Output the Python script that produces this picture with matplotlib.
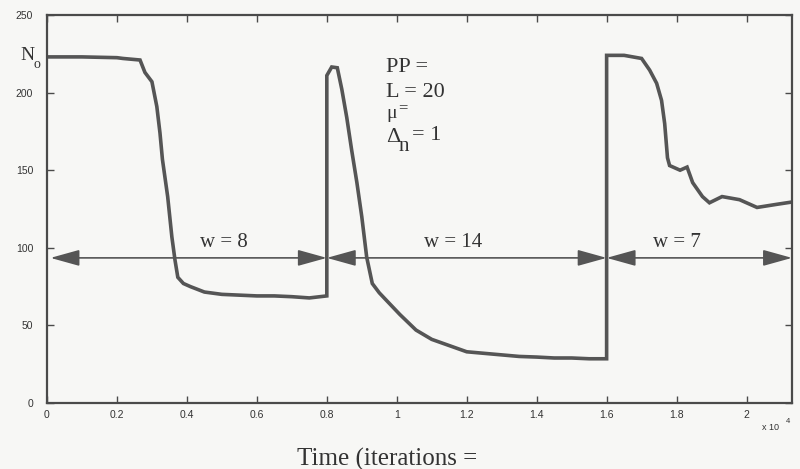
import numpy as np
import matplotlib
matplotlib.use("Agg")
import matplotlib.pyplot as plt

# time in units of 10^4 iterations
t = [0, 0.10, 0.20, 0.217, 0.266, 0.28, 0.30, 0.314, 0.323, 0.33, 0.345, 0.357,
     0.366, 0.374, 0.39, 0.41, 0.45, 0.5, 0.55, 0.6, 0.65, 0.7, 0.75, 0.8,
     0.8, 0.814, 0.83, 0.843, 0.857, 0.871, 0.886, 0.9, 0.914, 0.93, 0.95, 0.971,
     1.009, 1.055, 1.1, 1.15, 1.2, 1.25, 1.3, 1.35, 1.4, 1.45, 1.5, 1.55, 1.6,
     1.6, 1.65, 1.70, 1.723, 1.743, 1.757, 1.766, 1.774, 1.78, 1.81, 1.83, 1.846,
     1.874, 1.894, 1.93, 1.98, 2.03, 2.086, 2.13]
n = [223, 223, 222.5, 222, 221, 213, 207, 191, 174, 157, 133, 107,
     92, 81, 77, 75, 71.5, 70, 69.5, 69, 69, 68.5, 67.7, 69,
     211, 216.5, 216, 202, 184, 163, 142, 120, 94, 77, 71, 66,
     57, 47, 41, 37, 33, 32, 31, 30, 29.6, 29, 29, 28.5, 28.5,
     224, 224, 222, 214.5, 206, 195, 180, 158, 153, 150, 152, 142,
     133, 129, 133, 131, 126, 128, 129.5]

# window boundaries and labels
w_edges = [0.01, 0.8, 1.6, 2.13]
w_labels = ["w = 8", "w = 14", "w = 7"]
w_label_x = [0.506, 1.16, 1.80]
w_level = 93.5

xticks = [0, 0.2, 0.4, 0.6, 0.8, 1.0, 1.2, 1.4, 1.6, 1.8, 2.0]
yticks = [0, 50, 100, 150, 200, 250]

W, H = 800, 469
bg = "#f7f7f5"
ink = "#4a4a4a"
serif = ["Liberation Serif", "DejaVu Serif"]
sans = ["Liberation Sans", "DejaVu Sans"]

fig = plt.figure(figsize=(8, 4.69), dpi=100, facecolor=bg)
ax = fig.add_axes([47 / W, 1 - 403 / H, 745 / W, 388 / H])
ax.set_facecolor(bg)

ax.plot(t, n, color="#555555", lw=2.6, solid_joinstyle="miter")

# arrows showing window widths
for i in range(3):
    a, b = w_edges[i], w_edges[i + 1]
    ax.annotate("", xy=(b, w_level), xytext=(a, w_level),
                arrowprops=dict(arrowstyle="<|-|>,head_length=0.9,head_width=0.25",
                                mutation_scale=20, color="#555555", lw=1.2,
                                shrinkA=0, shrinkB=0))
    ax.text(w_label_x[i], w_level + 4, w_labels[i], ha="center",
            va="bottom", fontsize=15, family=serif, color="#333333")

ax.set_xlim(0, 2.13)
ax.set_ylim(0, 250)
ax.set_xticks(xticks)
ax.set_xticklabels(["%g" % v for v in xticks])
ax.set_yticks(yticks)
ax.tick_params(direction="in", length=5, width=1, top=True, right=True,
               labelsize=7.5, colors=ink, labelcolor="#333333")
ax.tick_params(axis="x", pad=5)
ax.tick_params(axis="y", pad=10)
for lab in ax.get_xticklabels() + ax.get_yticklabels():
    lab.set_family(sans)
for s in ax.spines.values():
    s.set_color(ink)
    s.set_linewidth(1.6)


def ft(x, y, s, **kw):
    fig.text(x / W, 1 - y / H, s, family=kw.pop("family", serif), color="#333333", **kw)


ft(762, 427, "x 10", fontsize=6.5, va="center", family=sans)
ft(786, 421, "4", fontsize=5.5, va="center", family=sans)

ft(20, 56, "N", fontsize=14, va="center")
ft(34, 64, "o", fontsize=10, va="center")

ft(386, 67, "PP =", fontsize=16, va="center")
ft(386, 92, "L = 20", fontsize=16, va="center")
ft(386, 114, "μ", fontsize=14, va="center")
ft(398, 108, "=", fontsize=12, va="center")
ft(386, 137, "Δ", fontsize=16, va="center")
ft(399, 146, "n", fontsize=15, va="center")
ft(412, 136, "= 1", fontsize=16, va="center")

ft(387, 459, "Time (iterations =", fontsize=18, ha="center", va="center")

fig.savefig("out.png", dpi=100, facecolor=bg)
